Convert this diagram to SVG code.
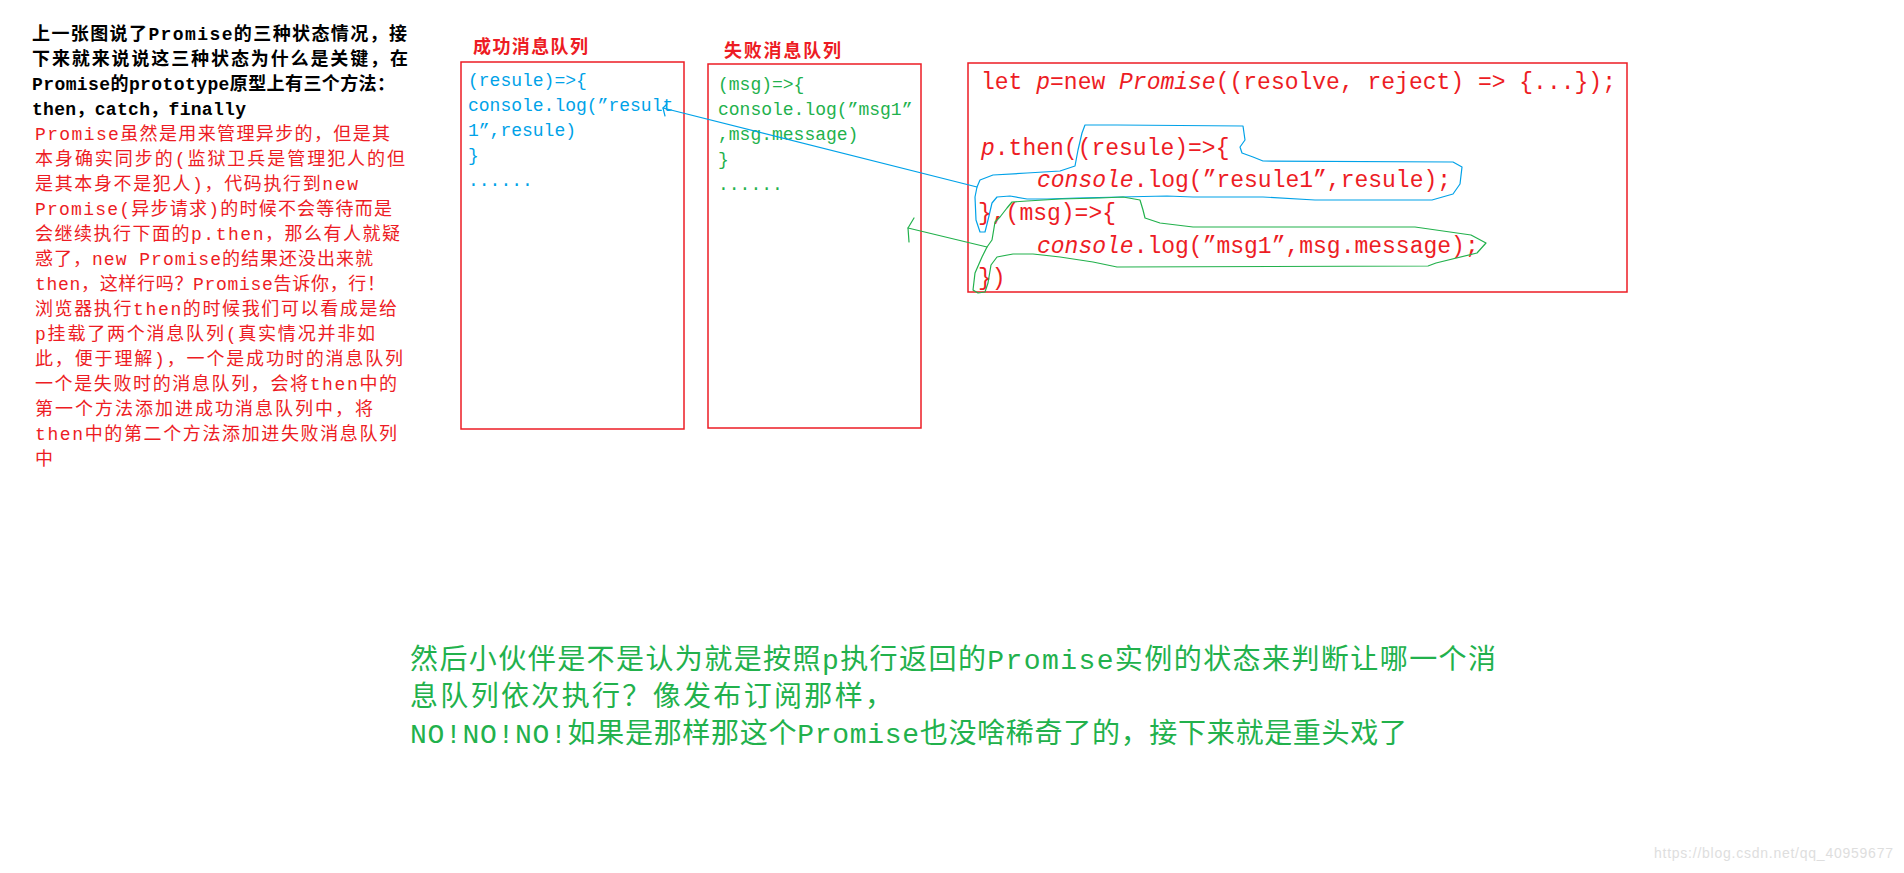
<svg xmlns="http://www.w3.org/2000/svg" width="1904" height="873" viewBox="0 0 1904 873">
<style>
.prose{font-family:"Liberation Mono","Noto Sans CJK SC",monospace;font-size:18px}
.blk{fill:#000;font-weight:700}
.red{fill:#ed1c24}
.ttl{font-family:"Liberation Mono","Noto Sans CJK SC",monospace;font-size:18px;font-weight:700;fill:#ed1c24}
.box{fill:none;stroke:#ed1c24;stroke-width:1.5}
.code{font-family:"Liberation Mono","Noto Sans CJK SC",monospace;font-size:18px}
.code3{font-family:"Liberation Mono","Noto Sans CJK SC",monospace;font-size:23px;fill:#ed1c24}
.it{font-style:italic}
.blue{fill:#00a2e8}
.grn{fill:#22b14c}
.loopb{fill:none;stroke:#00a2e8;stroke-width:1.2;stroke-linejoin:round}
.loopg{fill:none;stroke:#22b14c;stroke-width:1.2;stroke-linejoin:round}
.big{font-family:"Liberation Mono","Noto Sans CJK SC",monospace;font-size:28px;fill:#22b14c}
</style>
<rect width="1904" height="873" fill="#fff"/>

<g id="intro-text" class="prose">
<text class="blk" x="32" y="40" textLength="375" lengthAdjust="spacing">上一张图说了Promise的三种状态情况，接</text>
<text class="blk" x="32" y="65" textLength="376" lengthAdjust="spacing">下来就来说说这三种状态为什么是关键，在</text>
<text class="blk" x="32" y="90" textLength="363" lengthAdjust="spacing">Promise的prototype原型上有三个方法：</text>
<text class="blk" x="32" y="115" textLength="214" lengthAdjust="spacing">then，catch，finally</text>
<text class="red" x="35" y="140" textLength="355" lengthAdjust="spacing">Promise虽然是用来管理异步的，但是其</text>
<text class="red" x="35" y="165" textLength="370" lengthAdjust="spacing">本身确实同步的(监狱卫兵是管理犯人的但</text>
<text class="red" x="35" y="190" textLength="323" lengthAdjust="spacing">是其本身不是犯人)，代码执行到new</text>
<text class="red" x="35" y="215" textLength="357" lengthAdjust="spacing">Promise(异步请求)的时候不会等待而是</text>
<text class="red" x="35" y="240" textLength="365" lengthAdjust="spacing">会继续执行下面的p.then，那么有人就疑</text>
<text class="red" x="35" y="265" textLength="338" lengthAdjust="spacing">惑了，new Promise的结果还没出来就</text>
<text class="red" x="35" y="290" textLength="350" lengthAdjust="spacing">then，这样行吗？Promise告诉你，行！</text>
<text class="red" x="35" y="315" textLength="362" lengthAdjust="spacing">浏览器执行then的时候我们可以看成是给</text>
<text class="red" x="35" y="340" textLength="340" lengthAdjust="spacing">p挂载了两个消息队列(真实情况并非如</text>
<text class="red" x="35" y="365" textLength="368" lengthAdjust="spacing">此，便于理解)，一个是成功时的消息队列</text>
<text class="red" x="35" y="390" textLength="362" lengthAdjust="spacing">一个是失败时的消息队列，会将then中的</text>
<text class="red" x="35" y="415" textLength="338" lengthAdjust="spacing">第一个方法添加进成功消息队列中，将</text>
<text class="red" x="35" y="440" textLength="362" lengthAdjust="spacing">then中的第二个方法添加进失败消息队列</text>
<text class="red" x="35" y="465">中</text>
</g>

<g id="success-queue">
<text class="ttl" x="473" y="53" textLength="115" lengthAdjust="spacing">成功消息队列</text>
<rect class="box" x="461" y="62" width="223" height="367"/>
<g class="code blue">
<text x="468" y="86">(resule)=&gt;{</text>
<text x="468" y="111">console.log(”result</text>
<text x="468" y="136">1”,resule)</text>
<text x="468" y="161">}</text>
<text x="468" y="186">......</text>
</g>
</g>

<g id="fail-queue">
<text class="ttl" x="724" y="57" textLength="117" lengthAdjust="spacing">失败消息队列</text>
<rect class="box" x="708" y="64" width="213" height="364"/>
<g class="code grn">
<text x="718" y="90">(msg)=&gt;{</text>
<text x="718" y="115">console.log(”msg1”</text>
<text x="718" y="140">,msg.message)</text>
<text x="718" y="165">}</text>
<text x="718" y="190">......</text>
</g>
</g>

<g id="code-block">
<rect class="box" x="968" y="63" width="659" height="229"/>
<text class="code3" x="981" y="89">let <tspan class="it">p</tspan>=new <tspan class="it">Promise</tspan>((resolve, reject) =&gt; {...});</text>
<text class="code3" x="981" y="155"><tspan class="it">p</tspan>.then((resule)=&gt;{</text>
<text class="code3" x="1037" y="187"><tspan class="it">console</tspan>.log(”resule1”,resule);</text>
<text class="code3" x="978" y="220">},(msg)=&gt;{</text>
<text class="code3" x="1037" y="253"><tspan class="it">console</tspan>.log(”msg1”,msg.message);</text>
<text class="code3" x="978" y="285">})</text>
<path class="loopb" d="M977,187 L980,180 L993,175 L1027,173 L1060,171 L1075,166 L1078,150 L1082,133 L1085,125 L1117,125 L1243,126 L1245,140 L1240,147 L1242,153 L1253,157 L1263,161 L1453,162 L1462,167 L1460,184 L1453,194 L1432,200 L1315,200 L1263,197 L1193,197 L1167,196 L1120,197 L1077,198 L1047,199 L1027,199 L1010,196 L997,197 L992,203 L988,220 L985,232 L980,232 L976,220 L975,197 Z"/>
<path class="loopg" d="M987,247 L992,240 L995,222 L1000,217 L1007,208 L1012,202 L1027,201 L1060,199 L1100,198 L1123,197 L1140,200 L1143,210 L1145,218 L1160,223 L1193,227 L1415,227 L1471,235 L1486,243 L1477,253 L1436,263 L1428,266 L1117,267 L1093,262 L1060,257 L1033,254 L1013,254 L997,257 L991,265 L988,283 L985,292 L978,293 L973,290 L975,273 L982,257 Z"/>
</g>

<g id="connectors" fill="none" stroke-width="1.2" stroke-linecap="round" stroke-linejoin="round">
<path stroke="#00a2e8" d="M663,108 L977,187"/>
<path stroke="#00a2e8" d="M667,104 L663,108 L665,116"/>
<path stroke="#22b14c" d="M908,228 L987,247"/>
<path stroke="#22b14c" d="M914,218 L908,228 L909,242"/>
</g>

<g id="conclusion-text" class="big">
<text x="410" y="669" textLength="1086" lengthAdjust="spacing">然后小伙伴是不是认为就是按照p执行返回的Promise实例的状态来判断让哪一个消</text>
<text x="410" y="706" textLength="483" lengthAdjust="spacing">息队列依次执行？像发布订阅那样，</text>
<text x="410" y="743" textLength="997" lengthAdjust="spacing">NO!NO!NO!如果是那样那这个Promise也没啥稀奇了的，接下来就是重头戏了</text>
</g>

<g id="watermark">
<text x="1654" y="858" font-family="Liberation Sans, Arial, sans-serif" font-size="14" fill="#dedede" textLength="239" lengthAdjust="spacing">https://blog.csdn.net/qq_40959677</text>
</g>
</svg>
